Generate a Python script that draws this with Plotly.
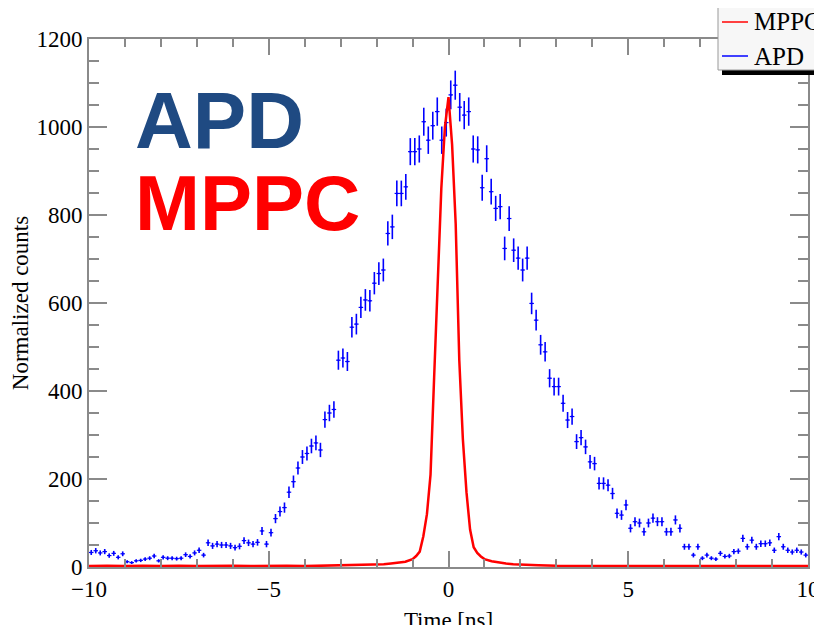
import numpy as np
import plotly.graph_objects as go

# APD histogram: 160 bins of 0.125 ns from -10 to 10 ns (normalized counts)
apd_t0 = -10.0
apd_bin = 0.125
apd_counts = [
    33, 37, 32, 35, 26, 31, 22, 30, 12, 10,
    14, 15, 18, 20, 25, 14, 22, 20, 20, 19,
    20, 28, 24, 32, 38, 27, 55, 48, 52, 50,
    50, 48, 44, 47, 60, 55, 52, 56, 82, 52,
    78, 110, 126, 135, 170, 194, 225, 250, 258, 275,
    282, 266, 335, 350, 358, 470, 475, 467, 545, 552,
    590, 607, 605, 645, 667, 675, 758, 773, 849, 849,
    864, 944, 944, 950, 1012, 970, 1003, 1035, 970, 1010,
    1073, 1095, 1045, 1027, 1035, 950, 948, 862, 928, 853,
    815, 819, 724, 792, 720, 702, 675, 702, 599, 561,
    505, 489, 429, 410, 410, 372, 334, 342, 285, 294,
    273, 239, 235, 190, 190, 186, 167, 122, 118, 141,
    88, 103, 100, 80, 100, 111, 103, 103, 80, 80,
    107, 88, 46, 46, 27, 46, 20, 27, 20, 18,
    31, 24, 25, 35, 36, 65, 46, 61, 46, 53,
    53, 55, 38, 69, 46, 38, 34, 38, 34, 27,
]

# MPPC timing distribution
mppc_t = [-10, -9.5, -9, -8.5, -8, -7.5, -7, -6.5, -6, -5.5, -5, -4.5, -4, -3.5,
          -3, -2.5, -2.0, -1.8, -1.6, -1.4, -1.2, -1.0, -0.9, -0.8, -0.7, -0.6,
          -0.5, -0.4, -0.3, -0.2, -0.1, 0.0, 0.1, 0.2, 0.3, 0.4, 0.5, 0.6, 0.7,
          0.8, 0.9, 1.0, 1.2, 1.4, 1.6, 1.8, 2.0, 2.5, 3, 3.5, 4, 4.5, 5, 5.5,
          6, 6.5, 7, 7.5, 8, 8.5, 9, 9.5, 10]
mppc_counts = [2, 3, 2, 3, 2, 3, 2, 3, 3, 2, 3, 3, 2, 3,
               3, 4, 5, 6, 8, 10, 12, 18, 25, 35, 70, 120,
               210, 430, 640, 860, 1000, 1068, 960, 780, 470, 290, 170, 85, 45,
               32, 24, 18, 13, 10, 8, 6, 5, 4, 3, 3, 3, 2, 3, 2,
               3, 2, 3, 2, 3, 2, 3, 2, 2]

legend_names = ["MPPC", "APD"]
legend_colors = ["#ff4040", "#4040ff"]

apd_centers = apd_t0 + apd_bin * (np.arange(len(apd_counts)) + 0.5)
apd_err = np.sqrt(np.array(apd_counts, dtype=float))

serif = "Liberation Serif, Times New Roman, serif"
big = "Liberation Sans, Arial"
axis_col = "#8a8a8a"

# plot area (page is offset 8px by the body margin)
L, R, T, B = 81, 22, 31, 66
pw, ph = 822 - L - R, 625 - T - B


def px(X):
    return (X - L) / pw


def py(Y):
    return (625 - B - Y) / ph


fig = go.Figure()

fig.add_trace(go.Scatter(
    x=apd_centers, y=apd_counts, mode="markers",
    marker=dict(color="#0000ff", size=2),
    error_y=dict(type="data", array=apd_err, color="#0000ff", thickness=1.6, width=0),
    error_x=dict(type="constant", value=apd_bin / 2, color="#0000ff", thickness=1.2, width=0),
    showlegend=False,
))
fig.add_trace(go.Scatter(
    x=mppc_t, y=mppc_counts, mode="lines",
    line=dict(color="#ff0000", width=2.5),
    showlegend=False,
))

fig.add_annotation(text="<b>APD</b>", x=px(125), y=py(112), xref="paper", yref="paper",
                   xanchor="left", yanchor="middle", showarrow=False,
                   font=dict(family=big, size=80, color="#1f4a82"))
fig.add_annotation(text="<b>MPPC</b>", x=px(125), y=py(195), xref="paper", yref="paper",
                   xanchor="left", yanchor="middle", showarrow=False,
                   font=dict(family=big, size=78, color="#ff0000"))

# ROOT-style legend box with drop shadow, drawn by hand
fig.add_shape(type="rect", xref="paper", yref="paper",
              x0=px(714), x1=px(830), y0=py(67), y1=py(-10),
              fillcolor="black", line=dict(width=0), layer="above")
fig.add_shape(type="rect", xref="paper", yref="paper",
              x0=px(710), x1=px(826), y0=py(62), y1=py(-14),
              fillcolor="#f7f7f7", line=dict(color="#999999", width=1), layer="above")
for i, (name, col) in enumerate(zip(legend_names, legend_colors)):
    yc = 14 + 34 * i
    fig.add_shape(type="line", xref="paper", yref="paper",
                  x0=px(714), x1=px(740), y0=py(yc), y1=py(yc),
                  line=dict(color=col, width=2), layer="above")
    fig.add_annotation(text=name, x=px(744), y=py(yc), xref="paper", yref="paper",
                       xanchor="left", yanchor="middle", showarrow=False,
                       font=dict(family=serif, size=25, color="black"))

axis_common = dict(showline=True, linecolor=axis_col, linewidth=2, mirror="ticks",
                   ticks="inside", tickcolor=axis_col, tickwidth=1.5, showgrid=False,
                   zeroline=False, tickfont=dict(family=serif, size=23, color="black"))

fig.update_xaxes(range=[-10, 10], dtick=5, ticklen=16,
                 minor=dict(ticks="inside", dtick=1, ticklen=8, tickcolor=axis_col, tickwidth=1.5),
                 title=dict(text="Time [ns]", font=dict(family=serif, size=23, color="black"), standoff=14),
                 automargin=False, **axis_common)
fig.update_yaxes(range=[0, 1200], dtick=200, ticklen=18,
                 minor=dict(ticks="inside", dtick=50, ticklen=10, tickcolor=axis_col, tickwidth=1.5),
                 title=dict(text="Normalized counts", font=dict(family=serif, size=23, color="black"), standoff=3),
                 automargin=False, **axis_common)

fig.update_layout(
    width=822, height=625,
    margin=dict(l=L, r=R, t=T, b=B, autoexpand=False),
    paper_bgcolor="white", plot_bgcolor="white",
    showlegend=False,
)

fig.write_html("out.html")
